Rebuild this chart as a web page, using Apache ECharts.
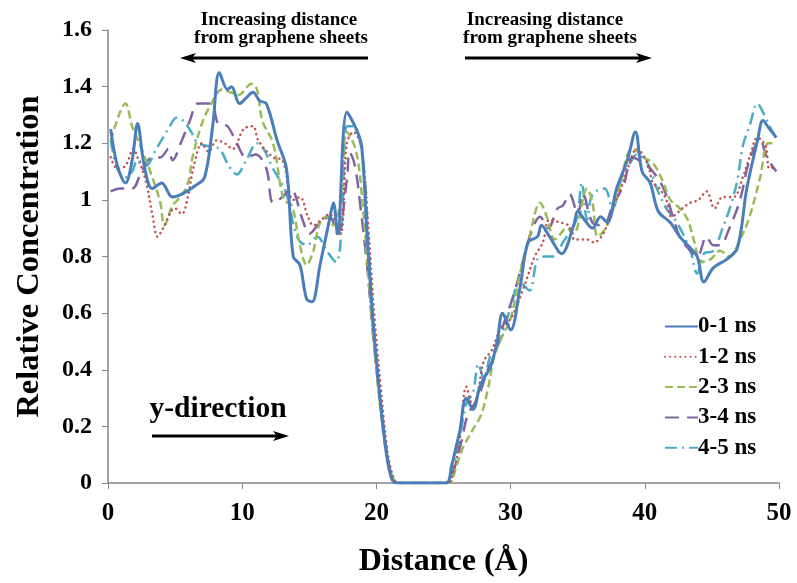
<!DOCTYPE html>
<html>
<head>
<meta charset="utf-8">
<script src="https://cdn.jsdelivr.net/npm/echarts@6/dist/echarts.min.js"></script>
<style>
html,body{margin:0;padding:0;background:#fff;}
#c{width:797px;height:583px;}
</style>
</head>
<body>
<div id="c"></div>
<script>
// ---- Data (x = distance in Å, y = relative concentration) ----
const seriesNames = ['0-1 ns', '1-2 ns', '2-3 ns', '3-4 ns', '4-5 ns'];
const xTicks = [0, 10, 20, 30, 40, 50];
const yTicks = [0, 0.2, 0.4, 0.6, 0.8, 1, 1.2, 1.4, 1.6];

const ns01 = [[0.2,1.25],[0.7,1.12],[1.3,1.06],[1.8,1.14],[2.2,1.27],[2.7,1.12],[3.3,1.04],[4.0,1.06],[4.8,1.01],[5.5,1.02],[6.5,1.05],[7.2,1.08],[7.8,1.26],[8.3,1.45],[8.9,1.39],[9.2,1.40],[9.8,1.34],[10.3,1.36],[10.8,1.38],[11.3,1.35],[11.8,1.34],[12.6,1.21],[13.3,1.11],[13.8,0.80],[14.3,0.77],[14.8,0.65],[15.2,0.64],[15.8,0.77],[16.5,0.93],[16.8,0.99],[17.1,0.88],[17.8,1.31],[18.5,1.25],[18.9,1.19],[19.3,0.88],[19.7,0.60],[20.2,0.33],[20.7,0.12],[21.1,0.02],[21.5,0],[23,0],[25.2,0],[25.6,0.06],[26.0,0.14],[26.2,0.18],[26.7,0.30],[27.2,0.26],[27.7,0.34],[28.0,0.37],[28.5,0.41],[29.0,0.50],[29.4,0.60],[30.0,0.54],[30.7,0.69],[31.3,0.85],[32.0,0.87],[32.3,0.91],[32.9,0.87],[33.8,0.81],[34.7,0.91],[35.0,0.96],[35.5,0.93],[36.1,0.90],[36.7,0.94],[37.2,0.92],[37.9,1.04],[38.7,1.14],[39.3,1.24],[39.8,1.10],[40.4,1.06],[41.0,0.96],[41.9,0.92],[42.6,0.87],[43.2,0.84],[43.9,0.80],[44.4,0.71],[45.1,0.76],[46.1,0.79],[46.9,0.83],[47.6,1.04],[48.4,1.21],[48.8,1.28],[49.3,1.25],[49.8,1.22]];

const ns12 = [[0.2,1.15],[0.7,1.11],[1.3,1.12],[1.9,1.18],[2.2,1.15],[2.8,1.07],[3.3,0.95],[3.7,0.87],[4.1,0.90],[5.0,0.97],[5.5,0.95],[5.9,1.00],[6.4,1.12],[7.0,1.20],[7.5,1.17],[8.1,1.21],[8.7,1.20],[9.3,1.18],[10.1,1.25],[10.8,1.26],[11.2,1.21],[12.3,1.15],[13.0,1.14],[13.8,1.00],[14.3,1.01],[14.9,0.94],[15.3,0.91],[15.9,0.93],[16.5,0.95],[17.3,0.88],[17.8,1.20],[18.3,1.24],[18.9,1.18],[19.4,0.90],[19.8,0.62],[20.3,0.35],[20.8,0.12],[21.2,0.03],[21.6,0],[23,0],[25.3,0],[25.8,0.05],[26.2,0.15],[26.7,0.34],[27.2,0.27],[27.6,0.33],[28.0,0.43],[28.6,0.47],[29.3,0.55],[30.0,0.58],[30.9,0.68],[31.8,0.80],[32.4,0.85],[32.9,0.93],[33.7,0.92],[34.3,0.91],[34.8,0.86],[35.7,0.86],[36.2,0.85],[36.9,0.88],[37.6,0.97],[38.3,1.05],[38.8,1.12],[39.4,1.18],[40.2,1.13],[40.6,1.06],[41.1,1.04],[41.6,1.00],[42.0,0.94],[42.8,0.97],[43.4,0.99],[44.0,1.00],[44.6,1.03],[45.2,0.97],[45.8,1.01],[46.6,1.01],[47.3,1.08],[47.8,1.15],[48.4,1.22],[49.0,1.19],[49.3,1.11],[49.8,1.12]];

const ns23 = [[0.2,1.21],[0.9,1.31],[1.3,1.34],[1.8,1.26],[2.5,1.18],[3.3,1.08],[3.9,0.99],[4.2,0.91],[4.8,0.98],[5.2,1.00],[5.9,1.05],[6.3,1.15],[7.0,1.27],[7.7,1.34],[8.5,1.39],[9.1,1.38],[9.7,1.37],[10.7,1.41],[11.1,1.39],[11.5,1.28],[12.3,1.20],[13.1,1.00],[13.7,0.98],[14.3,0.84],[14.8,0.77],[15.3,0.82],[15.8,0.92],[16.3,0.94],[16.8,0.91],[17.3,0.99],[17.8,1.24],[18.5,1.17],[19.0,0.97],[19.4,0.73],[19.9,0.45],[20.4,0.22],[20.9,0.06],[21.3,0.01],[21.6,0],[23,0],[25.4,0],[25.9,0.05],[26.4,0.12],[27.2,0.19],[27.8,0.24],[28.3,0.33],[28.8,0.45],[29.4,0.52],[30.0,0.58],[30.7,0.74],[31.4,0.87],[32.2,0.99],[32.7,0.94],[33.3,0.86],[34.2,0.90],[34.7,0.88],[35.7,1.04],[36.1,0.99],[36.5,0.87],[37.2,0.91],[38.2,1.06],[38.7,1.16],[39.1,1.18],[39.9,1.15],[40.6,1.13],[41.3,1.07],[41.9,1.00],[42.6,0.97],[43.2,0.93],[43.7,0.85],[44.2,0.78],[44.9,0.79],[45.6,0.82],[46.3,0.80],[47.1,0.86],[47.8,0.94],[48.6,1.08],[49.2,1.20],[49.8,1.20]];

const ns34 = [[0.2,1.03],[0.9,1.04],[1.8,1.04],[2.5,1.10],[3.3,1.15],[3.9,1.15],[4.5,1.18],[4.8,1.14],[5.5,1.21],[6.1,1.28],[6.7,1.34],[7.7,1.34],[8.2,1.27],[8.9,1.26],[9.6,1.20],[10.3,1.15],[11.0,1.16],[11.8,1.11],[12.3,0.99],[13.0,1.01],[13.6,1.04],[14.5,0.93],[15.0,0.88],[15.8,0.92],[16.5,0.94],[17.1,0.88],[17.8,1.07],[18.0,1.17],[18.4,1.12],[18.8,0.98],[19.3,0.77],[19.8,0.50],[20.3,0.28],[20.8,0.10],[21.2,0.02],[21.6,0],[23,0],[25.3,0],[25.8,0.05],[26.3,0.14],[26.8,0.24],[27.3,0.28],[27.8,0.33],[28.3,0.40],[28.8,0.45],[29.4,0.55],[30.2,0.66],[30.9,0.78],[31.5,0.88],[32.2,0.94],[32.8,0.90],[33.5,0.97],[33.9,0.98],[34.4,1.02],[35.0,0.95],[35.4,1.02],[36.1,0.92],[36.9,0.91],[37.6,0.98],[38.4,1.05],[39.1,1.15],[39.9,1.13],[40.6,1.10],[41.4,1.04],[42.1,0.94],[42.6,0.87],[43.2,0.83],[43.9,0.80],[44.6,0.87],[45.1,0.84],[45.6,0.84],[46.3,0.90],[47.1,1.00],[47.8,1.14],[48.6,1.21],[49.1,1.15],[49.8,1.10]];

const ns45 = [[0.2,1.21],[0.7,1.11],[1.3,1.08],[1.8,1.10],[2.2,1.14],[2.8,1.12],[3.6,1.18],[4.1,1.22],[4.6,1.26],[5.1,1.29],[5.6,1.28],[6.2,1.24],[6.7,1.20],[7.5,1.19],[8.3,1.18],[9.0,1.12],[9.6,1.09],[10.3,1.14],[11.1,1.20],[11.6,1.18],[12.3,1.11],[12.8,1.07],[13.3,1.02],[14.1,0.87],[14.8,0.84],[15.6,0.87],[16.3,0.82],[17.0,0.78],[17.4,0.90],[17.8,1.26],[18.3,1.26],[19.0,1.14],[19.4,0.85],[19.8,0.55],[20.3,0.30],[20.8,0.10],[21.2,0.02],[21.6,0],[23,0],[25.2,0],[25.7,0.05],[26.2,0.16],[26.7,0.28],[27.2,0.32],[27.6,0.42],[28.0,0.37],[28.5,0.45],[29.0,0.48],[29.6,0.56],[30.0,0.62],[30.7,0.71],[31.4,0.68],[32.0,0.79],[32.6,0.80],[33.2,0.80],[33.9,0.85],[34.9,0.93],[35.3,1.06],[35.7,0.93],[36.1,1.02],[37.0,1.04],[37.6,0.97],[38.3,1.08],[38.9,1.13],[39.4,1.16],[40.2,1.13],[40.9,1.04],[41.6,0.97],[42.4,0.92],[43.4,0.82],[43.9,0.74],[44.4,0.81],[45.1,0.82],[45.8,0.90],[46.4,0.98],[46.9,1.07],[47.3,1.19],[47.8,1.26],[48.4,1.34],[48.8,1.31],[49.3,1.26],[49.8,1.22]];

const seriesData = [ns01, ns12, ns23, ns34, ns45];
const colors = ['#4A7EBB', '#C0504D', '#9BBB59', '#8064A2', '#4BACC6'];
const dashes = ['solid', [0.1, 5], [8, 4], [14, 8], [12, 5, 2, 5]];
const caps = ['butt', 'round', 'butt', 'butt', 'butt'];
const widths = [3, 2.5, 2.5, 2.5, 2.5];

const serif = '"Liberation Serif", "DejaVu Serif", serif';
const chart = echarts.init(document.getElementById('c'));

function arrow(x1, x2, y, headLeft) {
  const hx = headLeft ? x1 : x2;
  const dir = headLeft ? 1 : -1;
  return [
    { type: 'line', shape: { x1: headLeft ? x1 + 8 : x1, y1: y, x2: headLeft ? x2 : x2 - 8, y2: y }, style: { stroke: '#000', lineWidth: 3 } },
    { type: 'polygon', shape: { points: [[hx, y], [hx + dir * 16, y - 5], [hx + dir * 12, y], [hx + dir * 16, y + 5]] }, style: { fill: '#000' } }
  ];
}
function label(text, x, y, size) {
  return { type: 'text', style: { text: text, x: x, y: y, align: 'center', verticalAlign: 'middle', textAlign: 'center', textVerticalAlign: 'middle', font: 'bold ' + size + 'px ' + serif, fill: '#000' } };
}

const option = {
  backgroundColor: '#fff',
  animation: false,
  grid: { left: 108, right: 18, top: 30, bottom: 99, containLabel: false },
  legend: {
    data: seriesNames,
    orient: 'vertical',
    left: 659,
    top: 310,
    itemWidth: 33,
    itemHeight: 14,
    itemGap: 7.3,
    itemStyle: { opacity: 0 },
    textStyle: { fontFamily: serif, fontWeight: 'bold', fontSize: 23, color: '#000', padding: [0, 0, 0, -5] }
  },
  xAxis: {
    type: 'value', min: xTicks[0], max: xTicks[xTicks.length - 1], interval: 10,
    name: 'Distance (Å)', nameLocation: 'middle', nameGap: 63,
    nameTextStyle: { fontFamily: serif, fontWeight: 'bold', fontSize: 32, color: '#000' },
    axisLine: { lineStyle: { color: '#868686', width: 1.5 } },
    axisTick: { show: true, length: 6, lineStyle: { color: '#868686' } },
    axisLabel: { margin: 18, fontFamily: serif, fontWeight: 'bold', fontSize: 25, color: '#000' },
    splitLine: { show: false }
  },
  yAxis: {
    type: 'value', min: yTicks[0], max: yTicks[yTicks.length - 1], interval: 0.2,
    name: 'Relative Concentration', nameLocation: 'middle', nameGap: 62,
    nameTextStyle: { fontFamily: serif, fontWeight: 'bold', fontSize: 32.5, color: '#000' },
    axisLine: { show: true, lineStyle: { color: '#868686', width: 1.5 } },
    axisTick: { show: true, length: 6, lineStyle: { color: '#868686' } },
    axisLabel: { margin: 16, fontFamily: serif, fontWeight: 'bold', fontSize: 24, color: '#000',
      formatter: v => String(Math.round(v * 10) / 10) },
    splitLine: { show: false }
  },
  series: seriesNames.map((n, i) => ({
    name: n, type: 'line', data: seriesData[i], smooth: 0.35, symbol: 'none',
    color: colors[i],
    lineStyle: { color: colors[i], width: widths[i], type: dashes[i], cap: caps[i] },
    z: 10 - i
  })),
  graphic: [
    label('Increasing distance', 279, 20, 19),
    label('from graphene sheets', 281, 38, 19),
    ...arrow(180, 368, 58, true),
    label('Increasing distance', 545, 20, 19),
    label('from graphene sheets', 550, 38, 19),
    ...arrow(465, 652, 58, false),
    label('y-direction', 218, 409, 29.5),
    ...arrow(152, 289, 436, false)
  ]
};
chart.setOption(option);
</script>
</body>
</html>
